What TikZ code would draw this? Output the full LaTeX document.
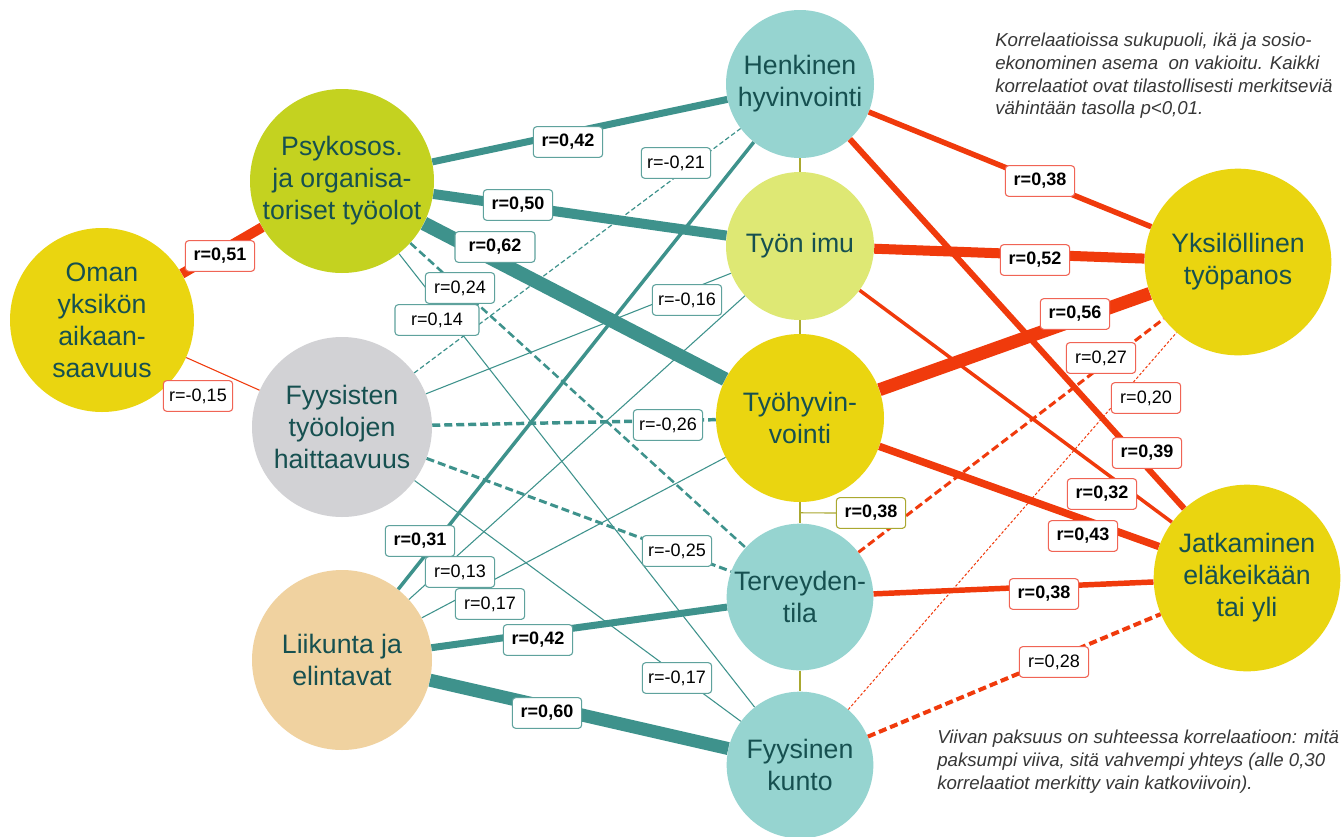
\documentclass[tikz,border=0pt]{standalone}
\usepackage{fontspec}
\setmainfont{Liberation Sans}
\pgfdeclarelayer{labels}
\pgfsetlayers{main,labels}

\definecolor{ink}{RGB}{22,80,80}
\definecolor{notec}{RGB}{55,55,55}
\definecolor{tealc}{RGB}{62,146,140}
\definecolor{tealb}{RGB}{95,162,157}
\definecolor{redc}{RGB}{240,58,12}
\definecolor{redb}{RGB}{240,100,85}
\definecolor{olivec}{RGB}{170,168,48}
\definecolor{yel}{RGB}{234,213,16}
\definecolor{lime}{RGB}{196,210,32}
\definecolor{fgrey}{RGB}{210,210,213}
\definecolor{sand}{RGB}{240,210,160}
\definecolor{aqua}{RGB}{150,212,208}
\definecolor{pale}{RGB}{222,232,116}

\newcommand{\factorfont}{\fontsize{20}{24}\selectfont}
\newcommand{\lblfont}{\fontsize{13.5}{15}\selectfont}
\newcommand{\notefont}{\fontsize{14}{17}\selectfont\itshape}

\tikzset{
	factor/.style={circle, inner sep=0pt, minimum size=#1, align=center, text=ink, font=\factorfont},
	lbl/.style={fill=white, rounded corners=2.5pt, line width=.8pt, inner sep=0pt,
		minimum width=52pt, minimum height=23pt, text=black, font=\lblfont},
	tlbl/.style={lbl, draw=tealb},
	rlbl/.style={lbl, draw=redb},
	olbl/.style={lbl, draw=olivec},
	strong/.style={font=\lblfont\bfseries},
	tline/.style={draw=tealc, line width=#1},
	rline/.style={draw=redc, line width=#1},
	oline/.style={draw=olivec, line width=1.9pt},
	weak/.style={dash pattern=on 6pt off 3pt},
	faint/.style={dash pattern=on 3.5pt off 2pt},
	note/.style={align=left, inner sep=0pt, text=notec, font=\notefont}
}

\newcommand{\corr}[6]{
	% #1: from node
	% #2: to node
	% #3: line style
	% #4: label style
	% #5: label x,y
	% #6: value
	\draw[#3] (#1) -- (#2);
	\begin{pgfonlayer}{labels}
		\node[#4] (l#1#2) at (#5) {r=#6};
	\end{pgfonlayer}
}

\begin{document}
\begin{tikzpicture}[x=0.75pt, y=-0.75pt]

\fill[white] (0,0) rectangle (1342,836);
\useasboundingbox (0,0) rectangle (1342,836);

% left factors
\node[factor=138pt, fill=yel] (oman) at (102,320) {Oman\\yksikön\\aikaan-\\saavuus};
\node[factor=138pt, fill=lime] (psyko) at (342,181) {Psykosos.\\ja organisa-\\toriset työolot};
\node[factor=135pt, fill=fgrey] (fyys) at (342,427) {Fyysisten\\työolojen\\haittaavuus};
\node[factor=135pt, fill=sand] (liik) at (342,660) {Liikunta ja\\elintavat};

% middle column
\node[factor=111pt, fill=aqua] (henk) at (800,84) {Henkinen\\hyvinvointi};
\node[factor=111pt, fill=pale] (imu) at (800,246) {Työn imu};
\node[factor=126pt, fill=yel] (hyv) at (800,418) {Työhyvin-\\vointi};
\node[factor=110pt, fill=aqua] (terv) at (800,597) {Terveyden-\\tila};
\node[factor=110pt, fill=aqua] (kunto) at (800,765) {Fyysinen\\kunto};

% outcomes
\node[factor=140pt, fill=yel] (panos) at (1238,262) {Yksilöllinen\\työpanos};
\node[factor=140pt, fill=yel] (jatk) at (1247,578) {Jatkaminen\\eläkeikään\\tai yli};

% vertical line
\draw[oline] (henk) -- (imu);
\draw[oline] (imu) -- (hyv);
\draw[oline] (hyv) -- coordinate[pos=.5] (wt) (terv);
\draw[oline] (terv) -- (kunto);
\begin{pgfonlayer}{labels}
	\node[olbl, strong] (lhyvterv) at (871,513) {r=0,38};
\end{pgfonlayer}
\draw[olivec, line width=.9pt] (wt) -- (lhyvterv);

% left correlations
\corr{oman}{psyko}{rline=7.5pt}{rlbl,strong}{220,256}{0,51}
\corr{oman}{fyys}{rline=.8pt}{rlbl}{198,396}{-0,15}
\corr{psyko}{henk}{tline=5.25pt}{tlbl,strong}{568,142}{0,42}
\corr{psyko}{imu}{tline=7.5pt}{tlbl,strong}{518,205}{0,50}
\corr{psyko}{hyv}{tline=10.5pt}{tlbl,strong,minimum width=60pt}{495,247}{0,62}
\corr{psyko}{terv}{tline=1.9pt,weak}{tlbl}{460,288}{0,24}
\corr{psyko}{kunto}{tline=.8pt}{tlbl,minimum width=63pt}{437,320}{0,14}
\corr{fyys}{henk}{tline=.9pt,faint}{tlbl}{676,163}{-0,21}
\corr{fyys}{imu}{tline=.8pt}{tlbl}{687,300}{-0,16}
\corr{fyys}{hyv}{tline=2.6pt,weak}{tlbl}{668,425}{-0,26}
\corr{fyys}{terv}{tline=2.25pt,weak}{tlbl}{677,551}{-0,25}
\corr{fyys}{kunto}{tline=.8pt}{tlbl}{677,678}{-0,17}
\corr{liik}{henk}{tline=2.6pt}{tlbl,strong}{420,541}{0,31}
\corr{liik}{imu}{tline=.8pt}{tlbl}{460,572}{0,13}
\corr{liik}{hyv}{tline=.8pt}{tlbl}{490,604}{0,17}
\corr{liik}{terv}{tline=5.25pt}{tlbl,strong}{538,640}{0,42}
\corr{liik}{kunto}{tline=9.75pt}{tlbl,strong}{547,713}{0,60}

% right correlations
\corr{henk}{panos}{rline=4.1pt}{rlbl,strong}{1040,181}{0,38}
\corr{henk}{jatk}{rline=4.5pt}{rlbl,strong}{1147,453}{0,39}
\corr{imu}{panos}{rline=7.5pt}{rlbl,strong}{1035,260}{0,52}
\corr{imu}{jatk}{rline=2.6pt}{rlbl,strong}{1102,494}{0,32}
\corr{hyv}{panos}{rline=9.75pt}{rlbl,strong}{1075,314}{0,56}
\corr{hyv}{jatk}{rline=5.6pt}{rlbl,strong}{1083,536}{0,43}
\corr{terv}{panos}{rline=2.25pt,weak}{rlbl}{1101,358}{0,27}
\corr{terv}{jatk}{rline=4.1pt}{rlbl,strong}{1044,594}{0,38}
\corr{kunto}{panos}{rline=.75pt,dash pattern=on 2pt off 1.5pt}{rlbl}{1146,398}{0,20}
\corr{kunto}{jatk}{rline=3pt,weak}{rlbl}{1054,662}{0,28}

% notes
\node[note, anchor=north west] (nadj) at (995,33) {Korrelaatioissa sukupuoli, ikä ja sosio-\\ekonominen asema \ on vakioitu. Kaikki\\korrelaatiot ovat tilastollisesti merkitseviä\\vähintään tasolla p<0,01.};
\node[note, anchor=north west] (nwidth) at (937,730) {Viivan paksuus on suhteessa korrelaatioon: mitä\\paksumpi viiva, sitä vahvempi yhteys (alle 0,30\\korrelaatiot merkitty vain katkoviivoin).};

\end{tikzpicture}
\end{document}
